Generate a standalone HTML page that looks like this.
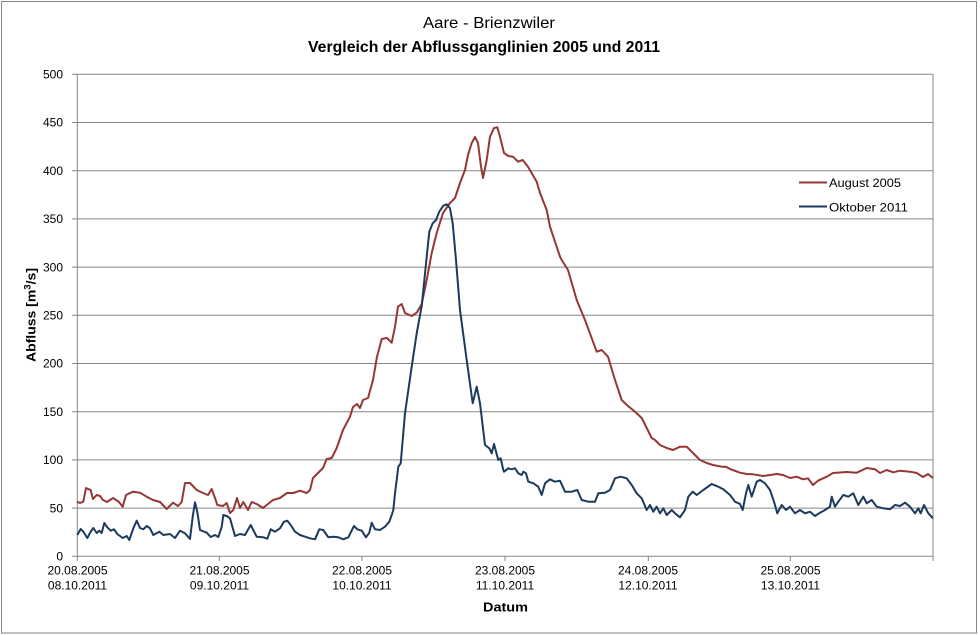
<!DOCTYPE html>
<html><head><meta charset="utf-8"><style>
html,body{margin:0;padding:0;background:#fff;}
svg{display:block;}
text{font-family:"Liberation Sans",sans-serif;fill:#000;}
</style></head><body>
<svg width="980" height="635" viewBox="0 0 980 635" xmlns="http://www.w3.org/2000/svg">
<rect x="0" y="0" width="980" height="635" fill="#fff"/>
<rect x="1.5" y="1.5" width="975" height="631.5" fill="none" stroke="#868686" stroke-width="1"/>
<!-- title -->
<text x="489" y="28" font-size="16" text-anchor="middle" textLength="132" lengthAdjust="spacingAndGlyphs">Aare - Brienzwiler</text>
<text x="484" y="52" font-size="16" font-weight="bold" text-anchor="middle" textLength="352" lengthAdjust="spacingAndGlyphs">Vergleich der Abflussganglinien 2005 und 2011</text>
<!-- gridlines -->
<g stroke="#868686" stroke-width="1">
<line x1="77" y1="508.1" x2="933" y2="508.1"/>
<line x1="77" y1="459.9" x2="933" y2="459.9"/>
<line x1="77" y1="411.7" x2="933" y2="411.7"/>
<line x1="77" y1="363.5" x2="933" y2="363.5"/>
<line x1="77" y1="315.3" x2="933" y2="315.3"/>
<line x1="77" y1="267.1" x2="933" y2="267.1"/>
<line x1="77" y1="218.9" x2="933" y2="218.9"/>
<line x1="77" y1="170.7" x2="933" y2="170.7"/>
<line x1="77" y1="122.5" x2="933" y2="122.5"/>
<line x1="77" y1="74.3" x2="933" y2="74.3"/>
<line x1="77.3" y1="74.3" x2="77.3" y2="556.3"/>
<line x1="933" y1="74.3" x2="933" y2="556.3"/>
<line x1="77" y1="556.3" x2="933" y2="556.3"/>
<!-- y ticks -->
<line x1="72" y1="556.3" x2="77" y2="556.3"/>
<line x1="72" y1="508.1" x2="77" y2="508.1"/>
<line x1="72" y1="459.9" x2="77" y2="459.9"/>
<line x1="72" y1="411.7" x2="77" y2="411.7"/>
<line x1="72" y1="363.5" x2="77" y2="363.5"/>
<line x1="72" y1="315.3" x2="77" y2="315.3"/>
<line x1="72" y1="267.1" x2="77" y2="267.1"/>
<line x1="72" y1="218.9" x2="77" y2="218.9"/>
<line x1="72" y1="170.7" x2="77" y2="170.7"/>
<line x1="72" y1="122.5" x2="77" y2="122.5"/>
<line x1="72" y1="74.3" x2="77" y2="74.3"/>
<!-- x ticks -->
<line x1="77.3" y1="556" x2="77.3" y2="561"/>
<line x1="219.3" y1="556" x2="219.3" y2="561"/>
<line x1="362" y1="556" x2="362" y2="561"/>
<line x1="505" y1="556" x2="505" y2="561"/>
<line x1="648.3" y1="556" x2="648.3" y2="561"/>
<line x1="790.3" y1="556" x2="790.3" y2="561"/>
<line x1="933" y1="556" x2="933" y2="561"/>
</g>
<!-- y labels -->
<g font-size="12" text-anchor="end">
<text x="63" y="560.5">0</text>
<text x="63" y="512.3">50</text>
<text x="63" y="464.1">100</text>
<text x="63" y="415.9">150</text>
<text x="63" y="367.7">200</text>
<text x="63" y="319.5">250</text>
<text x="63" y="271.3">300</text>
<text x="63" y="223.1">350</text>
<text x="63" y="174.9">400</text>
<text x="63" y="126.7">450</text>
<text x="63" y="78.5">500</text>
</g>
<!-- x labels -->
<g font-size="12" text-anchor="middle">
<text x="77.5" y="574.5">20.08.2005</text><text x="77.5" y="589.5">08.10.2011</text>
<text x="219.5" y="574.5">21.08.2005</text><text x="219.5" y="589.5">09.10.2011</text>
<text x="362" y="574.5">22.08.2005</text><text x="362" y="589.5">10.10.2011</text>
<text x="505" y="574.5">23.08.2005</text><text x="505" y="589.5">11.10.2011</text>
<text x="648" y="574.5">24.08.2005</text><text x="648" y="589.5">12.10.2011</text>
<text x="790.5" y="574.5">25.08.2005</text><text x="790.5" y="589.5">13.10.2011</text>
</g>
<text x="505.5" y="611.5" font-size="13" font-weight="bold" text-anchor="middle" textLength="45" lengthAdjust="spacingAndGlyphs">Datum</text>
<text transform="translate(35.5,315) rotate(-90)" font-size="13" font-weight="bold" text-anchor="middle" textLength="94" lengthAdjust="spacingAndGlyphs">Abfluss [m<tspan font-size="9" dy="-5">3</tspan><tspan dy="5">/s]</tspan></text>
<!-- series -->
<polyline fill="none" stroke="#953735" stroke-width="2" stroke-linejoin="round" points="77,501.7 80,503 83.3,501.7 86,488 88,489 90.7,490 93,499 96.7,495 100,496 103,500 107,502 113,498 119,502 122.7,506.7 126,495 133,491.7 140,492.7 146.7,496.7 153,500 160,502 166.7,509 173,502.7 178,506 181.7,502 185,483 190,483 196.7,490 203,493 208,495 211.7,489 215,498 217.3,505 223,506 226.7,503 230,513 233.3,510 237,498 240,508 243.3,502 248,510 251.7,502 256.7,504 263,508 266.7,505 273,500 280,498 287,493 293.3,493 300,490.7 306.7,493 310,490 313,478 318,473 323,468 326.7,459 331.7,458 336.7,448 343,430 350,416.7 353,407 357,404 360,408 363,400 368,398 373,380 377,356.7 381.7,339 387,338 391.7,342.7 395,326.7 398,306.7 401.7,304 405,313 411.7,316 416.7,312.7 421.7,304 426.7,280 431.7,253 436.7,233 443,213 450,203 455,198 460,183 465,170 468,155 471.7,143 475,137 478,143 481,166.7 483,178 486.7,160 490,136.7 494,128 497.3,127.3 500,136.7 504,153 508.3,156 513,156.7 518,161.7 522.7,160 528,166.7 536.7,181.7 540,193 546.7,210 550,226.7 560,256.7 561.7,260 568,270 576.7,300 585,320 596.7,351.7 601.7,350 608,356.7 615,380 621.7,400 628,406 635,411.7 641.7,418 651.7,438 655,440 660,445 666.7,448 673,450 680,446.7 686.7,446.7 693,453 700,460 706.7,463 713,465 721.7,466.7 726,466.7 730,469 740,472.7 746.7,474 753,474.3 763,476 770,475 776.7,474 783,475 790,478 796.7,476.7 803,479.3 808,478.3 813,485 818,480.7 826.7,476.7 833,473 846.7,472 856.7,472.7 866.7,468 875,469.3 880,473 886.7,470 893.3,472.3 900,470.7 910,471.7 916.7,473 923,477 928,474 933,478"/>
<polyline fill="none" stroke="#1b3a5e" stroke-width="2" stroke-linejoin="round" points="77.3,535 80.7,529 83.3,531.7 87.3,538 90.7,531.7 93.3,528 96.7,533 99.3,530.7 101.7,533 104.3,523 107.3,527.3 110.7,530.7 114,529.3 117.3,534 122.7,538 126.7,536 129.3,540 133.3,528.3 136.7,520.7 140,528 143.3,529.3 146.7,526 150,528.3 153.3,535 159.3,531.7 163.3,535 170,534 175,538 180,530.7 185,533.3 190,539 192.7,516.7 195,502.3 197.3,511.7 200,530 206.7,532.7 210.7,537 215,535 218.3,537 221.7,527 223.3,515 226.7,516 230,518.3 235,536 240,534 245,535 250.7,525 256.7,536.7 263.3,537.3 267.3,538.7 270.7,529.3 275,531.7 280,528.3 284,521.7 287.3,520.7 290.7,525 295,531.7 300,535 305,536.7 310,538.3 315,539.3 319.3,529.3 323.3,530 328.3,537.3 333.3,536.7 338.3,537.3 343.3,539.3 348.3,537.3 354,526 357.3,529.3 361.7,530.7 366,537.3 369.3,532.7 371.7,522.7 375,529.3 380,530 385,526.7 389.3,521.7 391.7,515 393.3,510 395,493.3 396.7,480 398.3,466.7 400.7,463.3 405,413.3 411.7,366.7 416.7,333.3 421.7,306 425.7,266.7 429.3,231.7 432.7,223.3 436,220 439.3,211.7 443.3,205.7 446.7,204.3 450,208.3 452.7,223.3 456,260 460,310 466.7,360 472.7,403.3 476.7,386.7 480,403.3 485,445 489.3,448.3 491.7,453.3 494,444 498.3,460 500.7,458.3 503.3,470 504,471.7 508.3,468.3 511.7,469.3 515,468.3 518.3,473.3 521.7,475 523.3,471.7 526,473.3 528.3,481.7 533.3,483.3 538.3,486.7 541.7,495 545,483.3 550,479.3 555,481.7 560,480.7 565,491.7 571.7,491.7 577.3,490 581.7,500 588.3,501.7 595,501.7 598.3,493.3 605,492.7 610,490 615,478.3 620.7,476.7 626.7,478.3 631.7,485 636.7,493.3 641.7,498.3 646.7,510 650,505 653.3,511.7 656.7,506.7 660,513.3 663.3,508.3 666.7,515 671.7,510 675,513.3 680,517.3 685,510 688.3,496.7 692.7,491.7 696.7,495 703.3,490 711.7,484 718.3,486.7 723.3,489.3 730,495 735,501.7 740,504 742.7,510 746,493.3 748.3,485 751.7,496.7 756.7,481.7 760,480 765,483.3 770,490 774,501.7 777.3,513.3 781.7,505 786,510 790,506.7 795,513.3 800,510 805,513.3 810,511.7 815,516 820,512.7 825,510 830,506.7 831.7,496.7 835,506.7 838.3,501.7 843.3,495 848.3,496.7 853.3,493.3 858.3,505 863.3,496.7 866.7,503.3 871.7,500 876.7,506.7 883.3,508.3 890,509.3 895,505 900,506 905,502.7 910,506.7 915,513.3 918.3,508.3 920.7,513.3 924,505 928.3,513.3 933,518.3"/>
<!-- legend -->
<line x1="799" y1="182.5" x2="827" y2="182.5" stroke="#953735" stroke-width="2"/>
<line x1="799" y1="206.5" x2="827" y2="206.5" stroke="#1b3a5e" stroke-width="2"/>
<text x="829" y="187" font-size="12" textLength="72" lengthAdjust="spacingAndGlyphs">August 2005</text>
<text x="829" y="211.5" font-size="12" textLength="79" lengthAdjust="spacingAndGlyphs">Oktober 2011</text>
</svg>
</body></html>
